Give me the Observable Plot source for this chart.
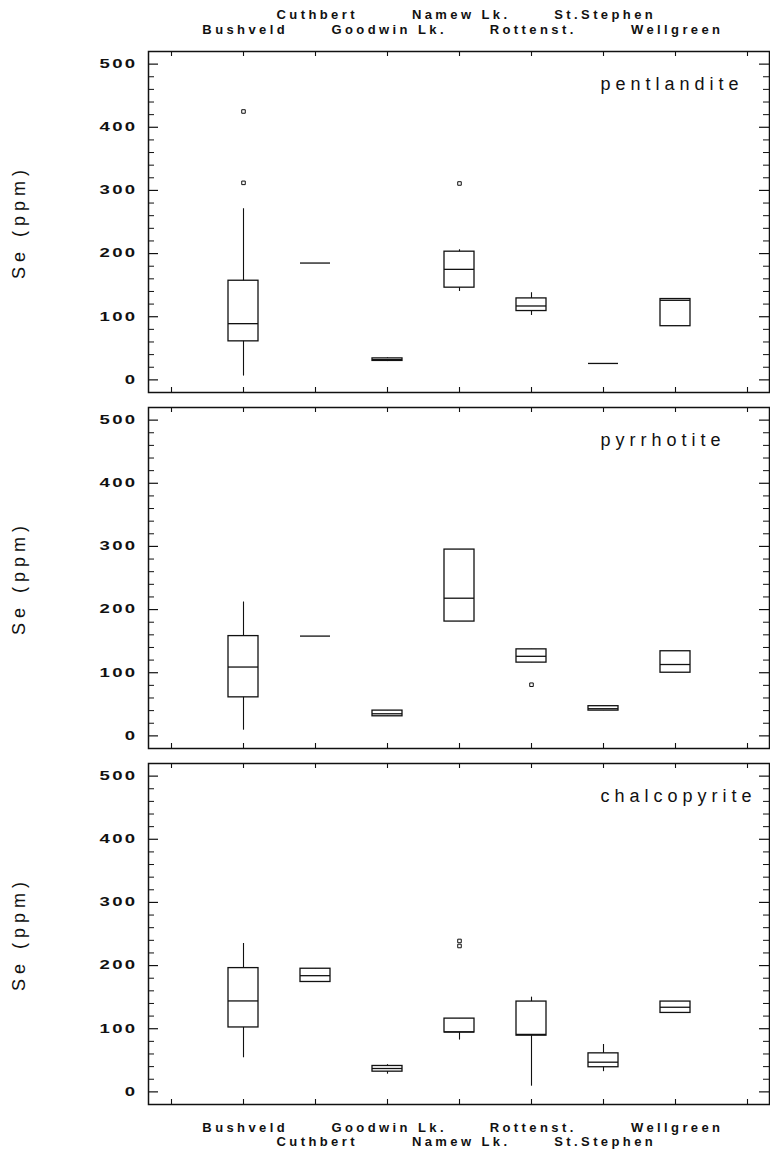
<!DOCTYPE html>
<html>
<head>
<meta charset="utf-8">
<script src="https://cdn.jsdelivr.net/npm/d3@7"></script>
<script src="https://cdn.jsdelivr.net/npm/@observablehq/plot@0.6"></script>
<style>
  body { margin: 0; background: #fff; }
  #chart { width: 770px; height: 1150px; }
</style>
</head>
<body>
<div id="chart"></div>
<script>
// ---- categories ----
const sites = ["Bushveld", "Cuthbert", "Goodwin Lk.", "Namew Lk.", "Rottenst.", "St.Stephen", "Wellgreen"];
const minerals = ["pentlandite", "pyrrhotite", "chalcopyrite"];
const xDomain = ["", ...sites, " "]; // empty tick positions at both ends
const yMajor = [0, 100, 200, 300, 400, 500];
const yMinor = [20, 40, 60, 80, 120, 140, 160, 180, 220, 240, 260, 280, 320, 340, 360, 380, 420, 440, 460, 480];
const yLabel = "Se (ppm)";

// ---- pentlandite (order = sites) ----
const pentLo  = [6,   185, 29, 140, 102, 26, 85];
const pentQ1  = [61,  185, 30, 146, 109, 26, 85];
const pentMed = [89,  185, 32, 175, 117, 26, 126];
const pentQ3  = [157, 185, 34, 203, 129, 26, 128];
const pentHi  = [271, 185, 35, 206, 138, 26, 128];
const pentOut = [["Bushveld", 425], ["Bushveld", 312], ["Namew Lk.", 311]];

// ---- pyrrhotite ----
const pyrLo  = [9,   158, 31, 181, 116, 40, 100];
const pyrQ1  = [61,  158, 31, 181, 116, 40, 100];
const pyrMed = [109, 158, 35, 218, 126, 43, 113];
const pyrQ3  = [158, 158, 40, 295, 137, 47, 134];
const pyrHi  = [212, 158, 40, 295, 137, 47, 134];
const pyrOut = [["Rottenst.", 81]];

// ---- chalcopyrite ----
const chLo  = [54,  174, 28, 82,  9,   32, 125];
const chQ1  = [102, 174, 32, 94,  89,  39, 125];
const chMed = [144, 184, 37, 95,  91,  47, 134];
const chQ3  = [196, 195, 41, 116, 143, 61, 143];
const chHi  = [235, 195, 43, 116, 150, 75, 143];
const chOut = [["Namew Lk.", 239], ["Namew Lk.", 231]];

// ---- build tables ----
const series = [
  [pentLo, pentQ1, pentMed, pentQ3, pentHi, pentOut],
  [pyrLo, pyrQ1, pyrMed, pyrQ3, pyrHi, pyrOut],
  [chLo, chQ1, chMed, chQ3, chHi, chOut]
];
const rows = minerals.flatMap((m, k) => sites.map((s, i) => ({
  mineral: m, site: s,
  lo: series[k][0][i], q1: series[k][1][i], med: series[k][2][i],
  q3: series[k][3][i], hi: series[k][4][i]
})));
const outliers = minerals.flatMap((m, k) => series[k][5].map(([s, v]) => ({mineral: m, site: s, value: v})));

const ink = "#111";
const plotW = 770 - 148 - 1;
const bandH = 342;
const evenSites = [sites[0], sites[2], sites[4], sites[6]];
const oddSites = [sites[1], sites[3], sites[5]];
const catFont = {fontSize: 13, fontWeight: "bold", fontFamily: "Liberation Sans, Arial, sans-serif", tickSize: 0, label: null, dx: 1.7};

const chart = Plot.plot({
  width: 770,
  height: 1150,
  marginLeft: 148,
  marginRight: 1,
  marginTop: 50,
  marginBottom: 44,
  style: {background: "#fff", color: ink},
  x: {type: "band", domain: xDomain, paddingInner: 0.585, paddingOuter: 0.0925, align: 0.5},
  y: {domain: [-20, 520]},
  fy: {domain: minerals, paddingInner: 0.042, paddingOuter: 0, axis: null},
  marks: [
    // inward tick marks
    Plot.tickY(yMajor, {y: d => d, insetRight: plotW - 10, stroke: ink, strokeWidth: 1.2}),
    Plot.tickY(yMajor, {y: d => d, insetLeft: plotW - 10, stroke: ink, strokeWidth: 1.2}),
    Plot.tickY(yMinor, {y: d => d, insetRight: plotW - 6, stroke: ink, strokeWidth: 1}),
    Plot.tickY(yMinor, {y: d => d, insetLeft: plotW - 6, stroke: ink, strokeWidth: 1}),
    Plot.tickX(xDomain, {x: d => d, insetBottom: bandH - 6, stroke: ink, strokeWidth: 1.1}),
    Plot.tickX(xDomain, {x: d => d, insetTop: bandH - 6, stroke: ink, strokeWidth: 1.1}),
    // box plots
    Plot.ruleX(rows, {fy: "mineral", x: "site", y1: "lo", y2: "hi", stroke: ink, strokeWidth: 1.1}),
    Plot.barY(rows, {fy: "mineral", x: "site", y1: "q1", y2: "q3", fill: "#fff", stroke: ink, strokeWidth: 1.3}),
    Plot.tickY(rows, {fy: "mineral", x: "site", y: "med", stroke: ink, strokeWidth: 1.3}),
    Plot.dot(outliers, {fy: "mineral", x: "site", y: "value", symbol: "square", r: 2, stroke: ink, fill: "#fff", strokeWidth: 1}),
    Plot.frame({stroke: ink, strokeWidth: 1.5}),
    // y tick labels
    Plot.axisY({anchor: "left", ticks: yMajor, tickSize: 0, tickPadding: 11, label: null,
      fontSize: 12, fontWeight: "bold", fontFamily: "Liberation Sans, Arial, sans-serif"}),
    // staggered site labels, top and bottom
    Plot.axisX({anchor: "top", ticks: evenSites, tickPadding: 17.5, ...catFont}),
    Plot.axisX({anchor: "top", ticks: oddSites, tickPadding: 32.5, ...catFont}),
    Plot.axisX({anchor: "bottom", ticks: evenSites, tickPadding: 18, ...catFont}),
    Plot.axisX({anchor: "bottom", ticks: oddSites, tickPadding: 32, ...catFont}),
    // panel labels
    Plot.text(minerals, {fy: d => d, text: d => d, frameAnchor: "top-left", textAnchor: "start", lineAnchor: "bottom",
      dx: 452, dy: 38, fontSize: 18, fontFamily: "Liberation Sans, Arial, sans-serif", fill: ink}),
    // y axis titles
    Plot.text(minerals, {fy: d => d, text: () => yLabel, frameAnchor: "left", rotate: -90, textAnchor: "middle",
      dx: -129, fontSize: 18, fontFamily: "Liberation Sans, Arial, sans-serif", fill: ink})
  ]
});

// letter spacing / horizontal stretch to mimic the original typography
const siteSet = new Set(sites);
const wideSet = new Set([...minerals, yLabel]);
chart.querySelectorAll("text").forEach(t => {
  const s = t.textContent;
  if (siteSet.has(s)) {
    t.setAttribute("letter-spacing", "3.4");
  } else if (wideSet.has(s)) {
    t.setAttribute("letter-spacing", "5");
  } else if (/^\d+$/.test(s)) {
    t.setAttribute("letter-spacing", "1.5");
    const tr = t.getAttribute("transform");
    if (tr) t.setAttribute("transform", tr + " scale(1.55,1)");
  }
});

document.getElementById("chart").appendChild(chart);
</script>
</body>
</html>
